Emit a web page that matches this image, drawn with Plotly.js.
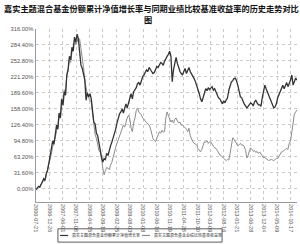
<!DOCTYPE html>
<html><head><meta charset="utf-8">
<script src="https://cdn.plot.ly/plotly-3.0.1.min.js"></script>
<style>html,body{margin:0;padding:0;background:#fff}#c{width:300px;height:244px}</style>
</head><body><div id="c"></div>
<script>
// Series values (%), two readings per month, 2006-07 .. 2014-12
var fundGrowth = [
-2,1, 5,3, 10,14, 20,17, 30,36, 50,66, 80,95, 88,110, 126,118, 150,140,
178,165, 192,185, 225,236, 262,255, 280,272, 300,290, 306,296, 270,245, 238,222, 215,175,
190,182, 188,178, 160,132, 128,110, 105,90, 75,62, 53,60, 58,70, 66,78, 85,92,
100,110, 118,130, 140,148, 152,158, 150,162, 168,160, 172,180, 188,178, 192,196, 200,208,
210,205, 216,222, 225,230, 235,232, 240,236, 233,228, 230,238, 242,240, 245,250, 248,244,
252,258, 262,266, 272,262, 212,236, 250,260, 248,238, 232,228, 225,232, 238,228, 236,240,
232,228, 224,218, 212,205, 196,188, 178,172, 180,190, 198,194, 200,196, 199,202, 195,198,
192,186, 180,178, 172,168, 174,170, 176,180, 195,205, 211,214, 218,219, 214,205, 192,182,
180,172, 168,164, 160,163, 166,170, 168,164, 172,175, 170,166, 166,163, 180,192, 205,198,
192,186, 180,172, 166,160, 162,168, 180,186, 194,200, 205,198, 205,210, 202,207, 215,225,
205,212, 219,215
];
var benchmark = [
0,2, 5,4, 10,12, 17,15, 28,35, 50,58, 75,82, 95,100, 115,122, 146,140,
165,175, 196,190, 225,232, 255,250, 270,280, 294,285, 290,298, 296,280, 265,240, 215,195,
186,180, 174,172, 150,120, 107,100, 90,75, 73,60, 40,28, 36,42, 41,38, 47,52,
62,70, 82,90, 98,104, 110,118, 126,122, 132,140, 146,138, 120,113, 130,140, 155,160,
152,150, 146,140, 138,134, 132,128, 126,120, 107,100, 96,93, 100,105, 113,110, 116,112,
113,140, 152,145, 138,132, 136,130, 138,140, 134,130, 132,126, 126,124, 122,118, 113,120,
105,98, 93,90, 88,87, 80,76, 73,78, 86,93, 92,95, 90,93, 93,88, 84,81,
80,76, 72,67, 66,62, 60,58, 56,58, 57,70, 88,101, 98,94, 88,85, 87,90,
86,87, 84,76, 61,66, 75,81, 78,74, 76,72, 74,70, 73,68, 64,61, 62,60,
58,56, 57,58, 57,56, 58,60, 60,64, 70,73, 74,76, 77,80, 78,90, 95,115,
132,148, 152,156
];
var seriesNames = ["嘉实主题混合基金份额累计净值增长率", "嘉实主题混合基金业绩比较基准收益率"];
var titleLines = ["嘉实主题混合基金份额累计净值增长率与同期业绩比较基准收益率的历史走势对比", "图"];
var startDate = "2006-07-21", endDate = "2014-12-31";
var xTicks = ["2006-07-21","2006-12-26","2007-06-01","2007-11-08","2008-04-15","2008-09-19",
"2009-02-25","2009-08-03","2010-01-08","2010-06-16","2010-11-19","2011-04-28","2011-10-10",
"2012-03-09","2012-08-16","2013-01-21","2013-06-28","2013-12-04","2014-05-09","2014-10-17"];
var yTicks = [0,31.6,63.2,94.8,126.4,158,189.6,221.2,252.8,284.4,316];
var yTickText = ["0.00%","31.60%","63.20%","94.80%","126.40%","158.00%","189.60%","221.20%","252.80%","284.40%","316.00%"];

// observation dates spread evenly over the period
var t0 = Date.parse(startDate), t1 = Date.parse(endDate);
var n = fundGrowth.length;
var dates = [];
for (var i = 0; i < n; i++) {
  dates.push(new Date(t0 + (t1 - t0) * i / (n - 1)).toISOString().slice(0, 10));
}

var traces = [
  {x: dates, y: benchmark, type: "scatter", mode: "lines", name: seriesNames[1],
   line: {color: "#8c8c8c", width: 1}, hoverinfo: "skip"},
  {x: dates, y: fundGrowth, type: "scatter", mode: "lines", name: seriesNames[0],
   line: {color: "#333333", width: 1.3}, hoverinfo: "skip"}
];

var grid = {gridcolor: "#b4b4b4", griddash: "dot", gridwidth: 0.7};
var titleFont = {family: "Noto Sans CJK SC", size: 8.2, color: "#111", weight: 700};
var legendFont = {family: "Noto Sans CJK SC", size: 4, color: "#333"};
var layout = {
  width: 300, height: 244,
  margin: {l: 36, r: 3, t: 29, b: 42},
  paper_bgcolor: "#fff", plot_bgcolor: "#fff",
  showlegend: false,
  xaxis: Object.assign({type: "date", range: [startDate, endDate],
          tickmode: "array", tickvals: xTicks, ticktext: xTicks, tickangle: 90,
          tickfont: {family: "Liberation Sans, Arial", size: 5.5, color: "#555"},
          showline: true, linecolor: "#999", linewidth: 1, ticks: "", zeroline: false,
          fixedrange: true}, grid),
  yaxis: Object.assign({range: [-26, 316], tickmode: "array", tickvals: yTicks, ticktext: yTickText,
          tickfont: {family: "Liberation Sans, Arial", size: 5.8, color: "#555"},
          showline: true, linecolor: "#999", linewidth: 1.5, ticks: "", zeroline: false,
          fixedrange: true}, grid),
  shapes: [
    {type: "rect", xref: "paper", yref: "paper", x0: 0.084, x1: 0.713, y0: -0.232, y1: -0.155,
     line: {color: "#333", width: 0.8}, fillcolor: "rgba(0,0,0,0)"},
    {type: "line", xref: "paper", yref: "paper", x0: 0.092, x1: 0.123, y0: -0.1935, y1: -0.1935,
     line: {color: "#333333", width: 1.2}},
    {type: "line", xref: "paper", yref: "paper", x0: 0.406, x1: 0.437, y0: -0.1935, y1: -0.1935,
     line: {color: "#8c8c8c", width: 1.2}}
  ],
  annotations: [
    {xref: "paper", yref: "paper", x: -0.132, y: 1.122, xanchor: "left", yanchor: "middle",
     text: titleLines[0], showarrow: false, font: titleFont},
    {xref: "paper", yref: "paper", x: 0.43, y: 1.058, xanchor: "center", yanchor: "middle",
     text: titleLines[1], showarrow: false, font: titleFont},
    {xref: "paper", yref: "paper", x: 0.130, y: -0.1935, xanchor: "left", yanchor: "middle",
     text: seriesNames[0], showarrow: false, font: legendFont},
    {xref: "paper", yref: "paper", x: 0.444, y: -0.1935, xanchor: "left", yanchor: "middle",
     text: seriesNames[1], showarrow: false, font: legendFont}
  ]
};
Plotly.newPlot("c", traces, layout, {displayModeBar: false, staticPlot: true});
</script></body></html>
